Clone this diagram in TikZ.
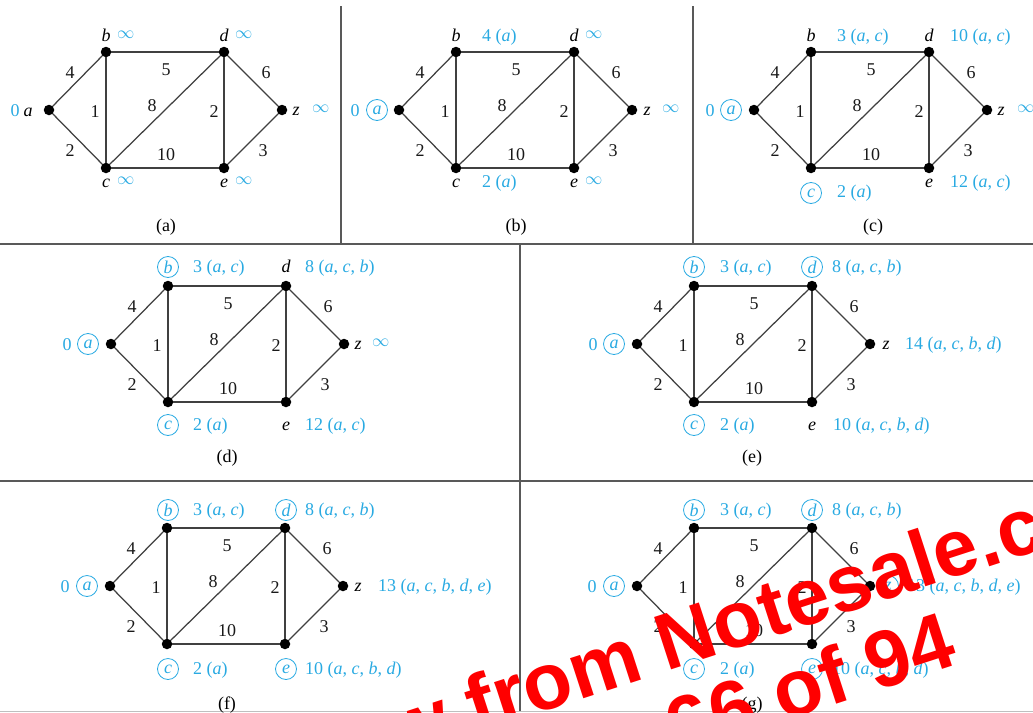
\documentclass[tikz,border=0pt]{standalone}
\usepackage{fontspec}
\setmainfont{Liberation Serif}
\newfontfamily\wmfont{Liberation Sans}
\usepackage{xcolor}
\usepackage{tikz}
\usetikzlibrary{positioning}

\definecolor{lblue}{RGB}{41,170,226}
\definecolor{wmred}{RGB}{255,0,0}
\newcommand{\gfont}{\fontsize{18}{21}\selectfont}
\newcommand{\infy}{\raisebox{2.5pt}{$\infty$}}

% one weighted graph, vertex a at the origin of the scope
\newcommand{\dgraph}{%
  \node[vtx] (a) at (0,0) {};
  \node[vtx] (b) at (57,-58) {};
  \node[vtx] (c) at (57,58) {};
  \node[vtx] (d) at (175,-58) {};
  \node[vtx] (e) at (175,58) {};
  \node[vtx] (z) at (233,0) {};
  \draw[edge] (a) -- (b);
  \draw[edge] (a) -- (c);
  \draw[edge] (b) -- (c);
  \draw[edge] (b) -- (d);
  \draw[edge] (c) -- (d);
  \draw[edge] (c) -- (e);
  \draw[edge] (d) -- (e);
  \draw[edge] (d) -- (z);
  \draw[edge] (e) -- (z);
  \node[wt] (wab) at (21,-37) {4};
  \node[wt] (wbd) at (117,-40) {5};
  \node[wt] (wdz) at (217,-37) {6};
  \node[wt] (wbc) at (46,2) {1};
  \node[wt] (wcd) at (103,-4) {8};
  \node[wt] (wde) at (165,2) {2};
  \node[wt] (wac) at (21,41) {2};
  \node[wt] (wce) at (117,45) {10};
  \node[wt] (wez) at (214,41) {3};
}

\begin{document}
\begin{tikzpicture}[x=1pt, y=-1pt, font=\gfont,
  vtx/.style={circle, fill=black, inner sep=0pt, minimum size=10.5pt},
  edge/.style={draw=black!75, line width=1.25pt},
  wt/.style={text=black!90, inner sep=0pt},
  nm/.style={font=\gfont\itshape, inner sep=0pt, anchor=base},
  val/.style={text=lblue, inner sep=0pt, anchor=base west},
  zero/.style={text=lblue, inner sep=0pt, anchor=base},
  seen/.style={circle, draw=lblue, text=lblue, font=\gfont\itshape, line width=0.8pt, minimum size=21pt, inner sep=0pt},
  panel/.style={inner sep=0pt},
  rule/.style={draw=black!65, line width=1.8pt},
  wm/.style={rotate=18, text=wmred, font=\wmfont\bfseries\fontsize{80}{80}\selectfont, inner sep=0pt, anchor=base}
]
\useasboundingbox (0,0) rectangle (1033,712);

% frame
\draw[rule] (341,6) -- (341,244);
\draw[rule] (693,6) -- (693,244);
\draw[rule] (0,244) -- (1033,244);
\draw[rule] (520,244) -- (520,712);
\draw[rule] (0,481) -- (1033,481);
\draw[draw=black!25, line width=0.8pt] (0,711) -- (1033,711);

% (a)
\begin{scope}[shift={(49,110)}, name prefix=pa-]
  \dgraph
  \node[zero] (da) at (-34,6) {0};
  \node[nm] (na) at (-21,6) {a};
  \node[nm] (nb) at (57,-69) {b};
  \node[val] (db) at (68,-69) {\infy};
  \node[nm] (nd) at (175,-69) {d};
  \node[val] (dd) at (186,-69) {\infy};
  \node[nm] (nz) at (247,5) {z};
  \node[val] (dz) at (263,5) {\infy};
  \node[nm] (nc) at (57,77) {c};
  \node[val] (dc) at (68,77) {\infy};
  \node[nm] (ne) at (175,77) {e};
  \node[val] (de) at (186,77) {\infy};
  \node[panel] (cap) at (117,117) {(a)};
\end{scope}

% (b)
\begin{scope}[shift={(399,110)}, name prefix=pb-]
  \dgraph
  \node[zero] (da) at (-44,6) {0};
  \node[seen] (na) at (-22,0) {a};
  \node[nm] (nb) at (57,-69) {b};
  \node[val] (db) at (83,-69) {4 (\textit{a})};
  \node[nm] (nd) at (175,-69) {d};
  \node[val] (dd) at (186,-69) {\infy};
  \node[nm] (nz) at (248,5) {z};
  \node[val] (dz) at (263,5) {\infy};
  \node[nm] (nc) at (57,77) {c};
  \node[val] (dc) at (83,77) {2 (\textit{a})};
  \node[nm] (ne) at (175,77) {e};
  \node[val] (de) at (186,77) {\infy};
  \node[panel] (cap) at (117,117) {(b)};
\end{scope}

% (c)
\begin{scope}[shift={(754,110)}, name prefix=pc-]
  \dgraph
  \node[zero] (da) at (-44,6) {0};
  \node[seen] (na) at (-23,0) {a};
  \node[nm] (nb) at (57,-69) {b};
  \node[val] (db) at (83,-69) {3 (\textit{a}, \textit{c})};
  \node[nm] (nd) at (175,-69) {d};
  \node[val] (dd) at (196,-69) {10 (\textit{a}, \textit{c})};
  \node[nm] (nz) at (247,5) {z};
  \node[val] (dz) at (263,5) {\infy};
  \node[seen] (nc) at (57,83) {c};
  \node[val] (dc) at (83,87) {2 (\textit{a})};
  \node[nm] (ne) at (175,77) {e};
  \node[val] (de) at (196,77) {12 (\textit{a}, \textit{c})};
  \node[panel] (cap) at (119,117) {(c)};
\end{scope}

% (d)
\begin{scope}[shift={(111,344)}, name prefix=pd-]
  \dgraph
  \node[zero] (da) at (-44,6) {0};
  \node[seen] (na) at (-23,0) {a};
  \node[seen] (nb) at (57,-77) {b};
  \node[val] (db) at (82,-72) {3 (\textit{a}, \textit{c})};
  \node[nm] (nd) at (175,-72) {d};
  \node[val] (dd) at (194,-72) {8 (\textit{a}, \textit{c}, \textit{b})};
  \node[nm] (nz) at (247,5) {z};
  \node[val] (dz) at (261,5) {\infy};
  \node[seen] (nc) at (57,81) {c};
  \node[val] (dc) at (82,86) {2 (\textit{a})};
  \node[nm] (ne) at (175,86) {e};
  \node[val] (de) at (194,86) {12 (\textit{a}, \textit{c})};
  \node[panel] (cap) at (116,114) {(d)};
\end{scope}

% (e)
\begin{scope}[shift={(637,344)}, name prefix=pe-]
  \dgraph
  \node[zero] (da) at (-44,6) {0};
  \node[seen] (na) at (-23,0) {a};
  \node[seen] (nb) at (57,-77) {b};
  \node[val] (db) at (83,-72) {3 (\textit{a}, \textit{c})};
  \node[seen] (nd) at (175,-77) {d};
  \node[val] (dd) at (195,-72) {8 (\textit{a}, \textit{c}, \textit{b})};
  \node[nm] (nz) at (249,5) {z};
  \node[val] (dz) at (268,5) {14 (\textit{a}, \textit{c}, \textit{b}, \textit{d})};
  \node[seen] (nc) at (57,81) {c};
  \node[val] (dc) at (83,86) {2 (\textit{a})};
  \node[nm] (ne) at (175,86) {e};
  \node[val] (de) at (196,86) {10 (\textit{a}, \textit{c}, \textit{b}, \textit{d})};
  \node[panel] (cap) at (115,114) {(e)};
\end{scope}

% (f)
\begin{scope}[shift={(110,586)}, name prefix=pf-]
  \dgraph
  \node[zero] (da) at (-45,6) {0};
  \node[seen] (na) at (-23,0) {a};
  \node[seen] (nb) at (58,-76) {b};
  \node[val] (db) at (83,-71) {3 (\textit{a}, \textit{c})};
  \node[seen] (nd) at (176,-76) {d};
  \node[val] (dd) at (195,-71) {8 (\textit{a}, \textit{c}, \textit{b})};
  \node[nm] (nz) at (248,5) {z};
  \node[val] (dz) at (268,5) {13 (\textit{a}, \textit{c}, \textit{b}, \textit{d}, \textit{e})};
  \node[seen] (nc) at (58,83) {c};
  \node[val] (dc) at (83,88) {2 (\textit{a})};
  \node[seen] (ne) at (176,83) {e};
  \node[val] (de) at (195,88) {10 (\textit{a}, \textit{c}, \textit{b}, \textit{d})};
  \node[panel] (cap) at (117,119) {(f)};
\end{scope}

% (g)
\begin{scope}[shift={(637,586)}, name prefix=pg-]
  \dgraph
  \node[zero] (da) at (-45,6) {0};
  \node[seen] (na) at (-23,0) {a};
  \node[seen] (nb) at (57,-76) {b};
  \node[val] (db) at (83,-71) {3 (\textit{a}, \textit{c})};
  \node[seen] (nd) at (175,-76) {d};
  \node[val] (dd) at (195,-71) {8 (\textit{a}, \textit{c}, \textit{b})};
  \node[seen] (nz) at (251,0) {z};
  \node[val] (dz) at (270,5) {13 (\textit{a}, \textit{c}, \textit{b}, \textit{d}, \textit{e})};
  \node[seen] (nc) at (57,83) {c};
  \node[val] (dc) at (83,88) {2 (\textit{a})};
  \node[seen] (ne) at (175,83) {e};
  \node[val] (de) at (195,88) {10 (\textit{a}, \textit{c}, \textit{b}, \textit{d})};
  \node[panel] (cap) at (115,119) {(g)};
\end{scope}

% stamp over the page
\begin{scope}
  \clip (0,0) rectangle (1033,712);
  \node[wm] (wm1) at (686,665) {Preview from Notesale.co.uk};
  \node[wm] (wm2) at (717,743) {Page 66 of 94};
\end{scope}
\end{tikzpicture}
\end{document}
